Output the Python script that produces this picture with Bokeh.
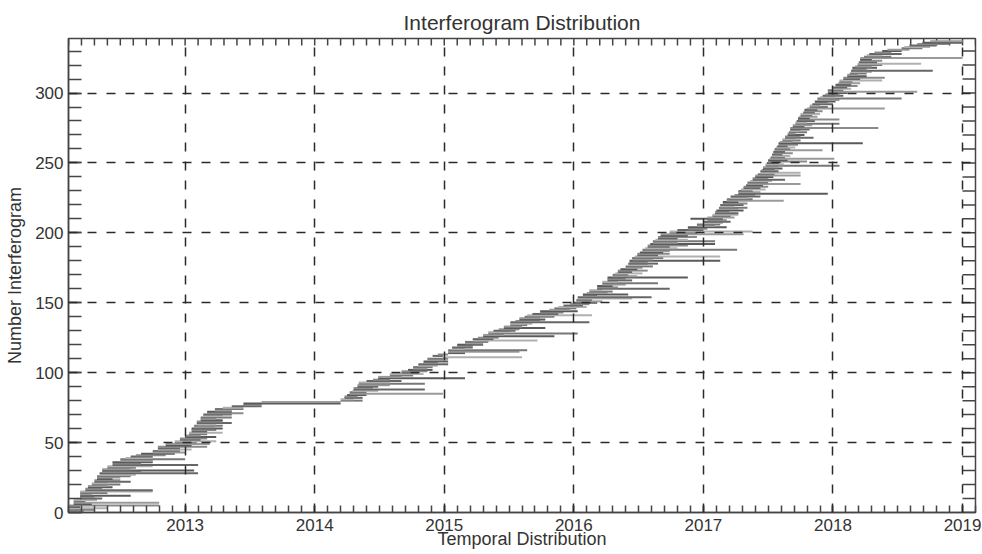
from bokeh.plotting import figure
from bokeh.models import ColumnDataSource, Range1d, FixedTicker
from bokeh.embed import file_html
from bokeh.resources import INLINE

title_text = "Interferogram Distribution"
x_label = "Temporal Distribution"
y_label = "Number Interferogram"
year_ticks = [2013, 2014, 2015, 2016, 2017, 2018, 2019]
count_ticks = [0, 50, 100, 150, 200, 250, 300]

# start / end date (decimal year) of each interferogram, one row per interferogram
start_year = [
    2012.10, 2012.10, 2012.10, 2012.10, 2012.10, 2012.10, 2012.14, 2012.14, 2012.14, 2012.14,
    2012.19, 2012.19, 2012.19, 2012.19, 2012.19, 2012.19, 2012.23, 2012.23, 2012.25, 2012.25,
    2012.28, 2012.28, 2012.30, 2012.30, 2012.32, 2012.32, 2012.32, 2012.34, 2012.34, 2012.36,
    2012.36, 2012.36, 2012.40, 2012.40, 2012.44, 2012.44, 2012.44, 2012.50, 2012.50, 2012.54,
    2012.58, 2012.62, 2012.66, 2012.75, 2012.75, 2012.79, 2012.79, 2012.79, 2012.85, 2012.85,
    2012.92, 2012.92, 2012.96, 2012.96, 2013.00, 2013.00, 2013.03, 2013.03, 2013.05, 2013.05,
    2013.05, 2013.07, 2013.07, 2013.09, 2013.09, 2013.09, 2013.12, 2013.12, 2013.12, 2013.14,
    2013.14, 2013.17, 2013.17, 2013.23, 2013.23, 2013.29, 2013.36, 2013.45, 2013.45, 2013.59,
    2014.20, 2014.20, 2014.23, 2014.23, 2014.25, 2014.27, 2014.27, 2014.29, 2014.30, 2014.30,
    2014.33, 2014.33, 2014.34, 2014.34, 2014.40, 2014.45, 2014.49, 2014.49, 2014.58, 2014.58,
    2014.67, 2014.67, 2014.72, 2014.76, 2014.76, 2014.80, 2014.80, 2014.84, 2014.84, 2014.87,
    2014.87, 2014.99, 2014.91, 2014.95, 2015.03, 2015.03, 2015.03, 2015.06, 2015.06, 2015.10,
    2015.10, 2015.16, 2015.16, 2015.22, 2015.22, 2015.26, 2015.30, 2015.30, 2015.34, 2015.34,
    2015.38, 2015.42, 2015.46, 2015.46, 2015.51, 2015.51, 2015.51, 2015.55, 2015.58, 2015.58,
    2015.62, 2015.64, 2015.68, 2015.74, 2015.74, 2015.81, 2015.85, 2015.88, 2015.92, 2015.97,
    2016.00, 2016.02, 2016.02, 2016.03, 2016.03, 2016.07, 2016.07, 2016.10, 2016.12, 2016.12,
    2016.18, 2016.18, 2016.18, 2016.22, 2016.22, 2016.22, 2016.26, 2016.26, 2016.26, 2016.30,
    2016.30, 2016.32, 2016.34, 2016.34, 2016.36, 2016.40, 2016.40, 2016.42, 2016.42, 2016.43,
    2016.43, 2016.45, 2016.45, 2016.47, 2016.49, 2016.49, 2016.51, 2016.53, 2016.53, 2016.55,
    2016.57, 2016.57, 2016.59, 2016.61, 2016.61, 2016.63, 2016.65, 2016.65, 2016.67, 2016.67,
    2016.74, 2016.74, 2016.80, 2016.88, 2016.88, 2016.95, 2016.95, 2017.00, 2017.00, 2017.03,
    2016.90, 2017.03, 2017.07, 2017.07, 2017.09, 2017.09, 2017.10, 2017.12, 2017.12, 2017.13,
    2017.13, 2017.15, 2017.15, 2017.18, 2017.18, 2017.21, 2017.21, 2017.24, 2017.27, 2017.27,
    2017.27, 2017.29, 2017.31, 2017.31, 2017.33, 2017.34, 2017.34, 2017.36, 2017.38, 2017.38,
    2017.40, 2017.40, 2017.42, 2017.44, 2017.44, 2017.45, 2017.46, 2017.46, 2017.48, 2017.48,
    2017.49, 2017.50, 2017.50, 2017.51, 2017.52, 2017.53, 2017.53, 2017.54, 2017.54, 2017.55,
    2017.55, 2017.56, 2017.57, 2017.58, 2017.58, 2017.59, 2017.61, 2017.61, 2017.63, 2017.63,
    2017.65, 2017.65, 2017.66, 2017.67, 2017.67, 2017.67, 2017.69, 2017.69, 2017.71, 2017.71,
    2017.72, 2017.73, 2017.73, 2017.74, 2017.75, 2017.75, 2017.77, 2017.78, 2017.78, 2017.80,
    2017.82, 2017.82, 2017.84, 2017.86, 2017.86, 2017.88, 2017.88, 2017.90, 2017.92, 2017.94,
    2017.96, 2017.96, 2017.96, 2018.00, 2018.00, 2018.02, 2018.02, 2018.04, 2018.05, 2018.05,
    2018.08, 2018.08, 2018.11, 2018.11, 2018.13, 2018.14, 2018.14, 2018.15, 2018.15, 2018.17,
    2018.19, 2018.19, 2018.20, 2018.21, 2018.21, 2018.21, 2018.24, 2018.26, 2018.28, 2018.32,
    2018.38, 2018.42, 2018.53, 2018.55, 2018.59, 2018.65, 2018.69, 2018.75,
]
end_year = [
    2012.16, 2012.22, 2012.30, 2012.40, 2012.19, 2012.80, 2012.28, 2012.80, 2012.23, 2012.32,
    2012.36, 2012.30, 2012.58, 2012.28, 2012.40, 2012.75, 2012.75, 2012.36, 2012.44, 2012.40,
    2012.50, 2012.40, 2012.58, 2012.50, 2012.44, 2012.50, 2012.58, 2012.62, 2013.10, 2012.66,
    2013.07, 2012.58, 2012.62, 2012.75, 2013.10, 2012.66, 2012.75, 2012.75, 2013.00, 2012.75,
    2012.75, 2012.85, 2012.92, 2013.00, 2012.96, 2013.05, 2012.96, 2013.17, 2013.05, 2013.19,
    2013.09, 2013.24, 2013.12, 2013.17, 2013.24, 2013.12, 2013.17, 2013.29, 2013.17, 2013.24,
    2013.29, 2013.23, 2013.29, 2013.24, 2013.36, 2013.29, 2013.29, 2013.24, 2013.36, 2013.29,
    2013.36, 2013.45, 2013.36, 2013.36, 2013.45, 2013.45, 2013.59, 2013.59, 2014.20, 2014.20,
    2014.37, 2014.30, 2014.37, 2014.33, 2014.40, 2014.99, 2014.40, 2014.49, 2014.85, 2014.45,
    2014.49, 2014.58, 2014.85, 2014.58, 2014.67, 2014.58, 2015.16, 2014.67, 2014.76, 2014.84,
    2014.80, 2014.87, 2014.91, 2014.87, 2014.91, 2014.95, 2015.03, 2014.95, 2015.03, 2014.99,
    2015.03, 2015.60, 2014.99, 2015.03, 2015.16, 2015.58, 2015.64, 2015.16, 2015.22, 2015.22,
    2015.30, 2015.30, 2015.34, 2015.72, 2015.38, 2015.42, 2015.85, 2015.46, 2016.03, 2015.51,
    2015.55, 2015.58, 2015.78, 2015.60, 2015.64, 2015.68, 2016.12, 2015.74, 2015.78, 2015.74,
    2015.85, 2016.14, 2015.88, 2015.92, 2016.03, 2015.97, 2016.02, 2016.10, 2016.07, 2016.12,
    2016.18, 2016.22, 2016.14, 2016.45, 2016.60, 2016.18, 2016.42, 2016.26, 2016.30, 2016.22,
    2016.74, 2016.34, 2016.30, 2016.40, 2016.65, 2016.34, 2016.45, 2016.40, 2016.88, 2016.49,
    2016.42, 2016.53, 2016.45, 2016.57, 2016.49, 2016.53, 2016.61, 2016.57, 2016.65, 2016.57,
    2017.13, 2016.61, 2016.69, 2017.13, 2016.65, 2016.74, 2016.69, 2016.74, 2017.26, 2016.80,
    2016.74, 2016.88, 2017.09, 2016.80, 2017.09, 2016.88, 2016.80, 2016.95, 2016.88, 2017.31,
    2016.95, 2017.38, 2017.00, 2017.03, 2017.18, 2017.09, 2017.13, 2017.15, 2017.21, 2017.18,
    2017.15, 2017.24, 2017.21, 2017.27, 2017.27, 2017.20, 2017.31, 2017.27, 2017.34, 2017.24,
    2017.31, 2017.34, 2017.27, 2017.62, 2017.38, 2017.34, 2017.44, 2017.40, 2017.96, 2017.44,
    2017.38, 2017.48, 2017.44, 2017.50, 2017.46, 2017.75, 2017.50, 2017.53, 2017.63, 2017.50,
    2017.54, 2017.75, 2017.55, 2017.75, 2017.58, 2017.55, 2017.61, 2017.58, 2018.05, 2017.62,
    2017.58, 2017.80, 2017.65, 2018.01, 2017.63, 2017.67, 2017.61, 2017.69, 2017.63, 2017.92,
    2017.67, 2017.71, 2017.65, 2017.73, 2018.23, 2017.69, 2017.75, 2017.71, 2017.85, 2017.75,
    2017.78, 2017.71, 2017.80, 2017.75, 2017.82, 2018.35, 2017.78, 2017.84, 2018.05, 2017.80,
    2017.86, 2018.05, 2017.82, 2017.88, 2017.84, 2017.90, 2017.86, 2017.92, 2017.88, 2018.40,
    2017.96, 2017.90, 2018.00, 2017.96, 2018.02, 2018.05, 2018.53, 2018.02, 2018.08, 2018.05,
    2018.11, 2018.65, 2018.08, 2018.14, 2018.11, 2018.19, 2018.14, 2018.21, 2018.15, 2018.38,
    2018.21, 2018.40, 2018.26, 2018.19, 2018.26, 2018.30, 2018.77, 2018.26, 2018.34, 2018.30,
    2018.38, 2018.68, 2018.34, 2018.38, 2018.30, 2019.00, 2018.45, 2018.38, 2018.53, 2018.45,
    2018.53, 2018.59, 2018.69, 2018.75, 2018.80, 2018.90, 2019.00, 2019.00,
]

n = min(len(start_year), len(end_year))
rows = list(range(n))
palette = ["#5a5a5a", "#9a9a9a", "#777777", "#b0b0b0", "#666666", "#8a8a8a"]
colors = [palette[i % len(palette)] for i in rows]
src = ColumnDataSource(dict(x0=start_year[:n], x1=end_year[:n], y=rows, color=colors))

FONT = "Liberation Sans"
TXT = "#333333"
AX = "#444444"
X0, X1 = 2012.1, 2019.1
Y0, Y1 = 0, 339
FRAME_W, FRAME_H = 907.0, 474.0
px_x = (X1 - X0) / FRAME_W   # years per pixel
px_y = (Y1 - Y0) / FRAME_H   # counts per pixel

p = figure(width=982, height=554, output_backend="svg", toolbar_location=None,
           x_range=Range1d(X0, X1), y_range=Range1d(Y0, Y1),
           min_border_left=68, min_border_right=7, min_border_top=38, min_border_bottom=42,
           background_fill_color="white", border_fill_color="white")
p.outline_line_color = AX
p.outline_line_width = 1.5

p.title.text = title_text
p.title.align = "center"
p.title.text_font = FONT
p.title.text_font_size = "21px"
p.title.text_font_style = "normal"
p.title.text_color = TXT
p.title.standoff = 9

x_minor = [round(X0 + 0.1 * k, 2) for k in range(71)]
y_minor = list(range(0, 340, 10))
xt = FixedTicker(ticks=year_ticks, minor_ticks=x_minor)
yt = FixedTicker(ticks=count_ticks, minor_ticks=y_minor)

xa = p.below[0]
ya = p.left[0]

def style_axis(ax, ticker, tick_len):
    ax.ticker = ticker
    ax.major_tick_in = tick_len
    ax.major_tick_out = 0
    ax.minor_tick_in = tick_len
    ax.minor_tick_out = 0
    ax.axis_line_color = AX
    ax.axis_line_width = 1.5
    ax.major_tick_line_color = AX
    ax.major_tick_line_width = 1.5
    ax.minor_tick_line_color = AX
    ax.minor_tick_line_width = 1.5
    ax.major_label_text_font = FONT
    ax.major_label_text_font_size = "17px"
    ax.major_label_text_color = TXT
    ax.axis_label_text_font = FONT
    ax.axis_label_text_font_size = "18px"
    ax.axis_label_text_font_style = "normal"
    ax.axis_label_text_color = TXT

style_axis(xa, xt, 7)
style_axis(ya, yt, 13)
xa.axis_label = x_label
xa.major_label_standoff = 6
xa.axis_label_standoff = -5
ya.axis_label = y_label
ya.major_label_standoff = 5
ya.axis_label_standoff = 7

# mirrored tick marks on the top and right frame edges (7 px / 13 px long)
p.segment(x0=x_minor, y0=[Y1] * len(x_minor), x1=x_minor, y1=[Y1 - 7 * px_y] * len(x_minor),
          line_color=AX, line_width=1.5)
p.segment(x0=[X1] * len(y_minor), y0=y_minor, x1=[X1 - 13 * px_x] * len(y_minor), y1=y_minor,
          line_color=AX, line_width=1.5)

p.xgrid.ticker = xt
p.ygrid.ticker = yt
for g in (p.xgrid, p.ygrid):
    g.grid_line_color = "#2a2a2a"
    g.grid_line_dash = "9 10"
    g.grid_line_width = 1.5
    g.level = "overlay"

p.segment(x0="x0", y0="y", x1="x1", y1="y", source=src, line_color="color", line_width=2)

open("out.html", "w").write(file_html(p, INLINE))
